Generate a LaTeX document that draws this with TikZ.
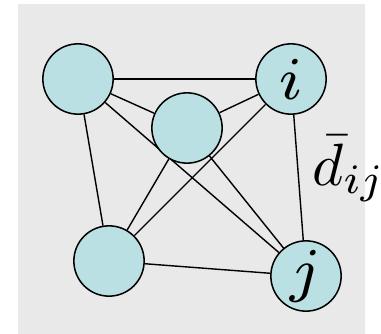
\documentclass[tikz,border=0pt]{standalone}
\usepackage{graphicx}
\usepackage{tikz}
\usetikzlibrary{backgrounds}
\definecolor{nodecyan}{HTML}{BBE0E3}
\definecolor{panelgray}{HTML}{E9E9E9}
\newcommand{\bigmath}[1]{\scalebox{5.1}{$#1$}}
\newcommand{\vertlab}[1]{\scalebox{7.4}{$\scriptstyle #1$}}

\begin{document}
\begin{tikzpicture}[
    x=0.03cm, y=-0.03cm,
    vert/.style={
      circle, minimum size=60, inner sep=0pt,
      fill=nodecyan, draw=black, line width=1.3pt,
    },
    edge/.style={draw=black, line width=1.2pt},
    distlab/.style={inner sep=0pt, anchor=base west},
  ]

  \useasboundingbox (0,0) rectangle (381,334);

  % ---- Vertices ----
  \node[vert] (tl)  at (78, 79)   {};
  \node[vert] (vi)  at (291, 79)  {\vertlab{i}};
  \node[vert] (mid) at (187, 128) {};
  \node[vert] (bl)  at (109, 261) {};
  \node[vert] (vj)  at (306, 276) {\vertlab{j}};

  % ---- Distance label ----
  \node[distlab] (dij) at (312, 185) {\bigmath{\bar{d}_{ij}}};

  % ---- Gray panel and edges (complete graph) ----
  \begin{scope}[on background layer]
    \fill[panelgray] (18,4) rectangle (365,334);
    \foreach \a/\b in {tl/vi, tl/mid, tl/bl, tl/vj, mid/vi, mid/bl, mid/vj, vi/bl, vi/vj, bl/vj}
      \draw[edge] (\a) -- (\b);
  \end{scope}

\end{tikzpicture}
\end{document}
